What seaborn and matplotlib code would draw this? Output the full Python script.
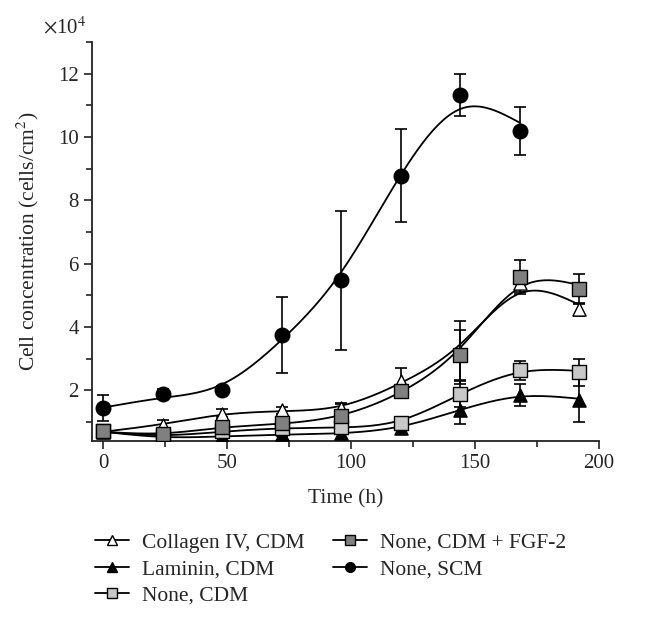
import numpy as np
import pandas as pd
import matplotlib
matplotlib.use('Agg')
import matplotlib.pyplot as plt
from matplotlib.lines import Line2D
from matplotlib.ticker import MultipleLocator
import seaborn as sns

# -- data (cells/cm^2, in units of 1e4) --
time_h = [0, 24, 48, 72, 96, 120, 144, 168, 192]

collagen = [0.69, 0.91, 1.25, 1.36, 1.45, 2.30, 3.20, 5.40, 4.56]
collagen_err = [0.10, 0.15, 0.17, 0.12, 0.10, 0.40, 1.00, 0.30, 0.20]

laminin = [0.70, 0.50, 0.55, 0.60, 0.65, 0.82, 1.37, 1.85, 1.70]
laminin_err = [0.05, 0.05, 0.05, 0.05, 0.05, 0.20, 0.45, 0.35, 0.70]

none_cdm = [0.70, 0.55, 0.70, 0.80, 0.85, 0.97, 1.88, 2.63, 2.57]
none_cdm_err = [0.05, 0.05, 0.10, 0.10, 0.15, 0.10, 0.40, 0.30, 0.43]

fgf2 = [0.70, 0.60, 0.85, 0.95, 1.20, 1.98, 3.11, 5.57, 5.19]
fgf2_err = [0.05, 0.10, 0.30, 0.20, 0.40, 0.10, 0.80, 0.53, 0.47]

scm_time = [0, 24, 48, 72, 96, 120, 144, 168]
scm = [1.44, 1.88, 2.00, 3.75, 5.47, 8.78, 11.33, 10.20]
scm_err = [0.40, 0.15, 0.12, 1.20, 2.20, 1.47, 0.67, 0.76]

# name, x, y, err, marker, face colour, smoothing
series = [
    ('Collagen IV, CDM', time_h, collagen, collagen_err, '^', 'white', 600),
    ('Laminin, CDM', time_h, laminin, laminin_err, '^', 'black', 600),
    ('None, CDM', time_h, none_cdm, none_cdm_err, 's', '#c8c8c8', 600),
    ('None, CDM + FGF-2', time_h, fgf2, fgf2_err, 's', '#808080', 600),
    ('None, SCM', scm_time, scm, scm_err, 'o', 'black', 1000),
]


def smooth_curve(t, y, lam):
    # discrete smoothing spline (second-difference penalty) on a 1 h grid
    grid = np.arange(t.min(), t.max() + 1, 1.0)
    n = len(grid)
    idx = np.searchsorted(grid, t)
    w = np.zeros(n)
    w[idx] = 1.0
    z = np.zeros(n)
    z[idx] = y
    D = np.diff(np.eye(n), 2, axis=0)
    f = np.linalg.solve(np.diag(w) + lam * D.T @ D, w * z)
    return grid, f


sns.set_style('ticks')
plt.rcParams['font.family'] = ['Liberation Serif', 'DejaVu Serif']
plt.rcParams['mathtext.fontset'] = 'stix'

fig = plt.figure(figsize=(6.64, 6.2), dpi=100)
ax = fig.add_axes([0.1386, 0.289, 0.7634, 0.643])

handles = []
for name, t, y, e, mk, fc, lam in series:
    t = np.array(t, dtype=float)
    y = np.array(y)
    tt, yy = smooth_curve(t, y, lam)
    sns.lineplot(x=tt, y=yy, color='black', lw=1.3, ax=ax, zorder=2)
    ax.errorbar(t, y, yerr=e, fmt='none', ecolor='black', elinewidth=1.2,
                capsize=4.5, capthick=1.2, zorder=3)
    df = pd.DataFrame({'t': t, 'y': y})
    sns.scatterplot(data=df, x='t', y='y', marker=mk, color=fc, edgecolor='black',
                    linewidth=1.0, s=90 if mk != 'o' else 110, ax=ax, zorder=4)
    handles.append(Line2D([], [], color='black', lw=1.3, marker=mk, markerfacecolor=fc,
                          markeredgecolor='black', markersize=7, label=name))

ax.set_xlim(-4.5, 200)
ax.set_ylim(0.4, 13)
ax.xaxis.set_major_locator(MultipleLocator(50))
ax.xaxis.set_minor_locator(MultipleLocator(25))
ax.yaxis.set_minor_locator(MultipleLocator(1))
ax.set_yticks([2, 4, 6, 8, 10, 12])
ax.tick_params(axis='both', which='major', labelsize=15, length=6, width=1.2, direction='out', color='#222222')
ax.tick_params(axis='both', which='minor', length=4, width=1.2, direction='out', color='#222222')
sns.despine(ax=ax)
for s in ['left', 'bottom']:
    ax.spines[s].set_linewidth(1.3)
    ax.spines[s].set_color('#222222')

ax.set_xlabel('Time (h)', fontsize=15.5, labelpad=12)
ax.set_ylabel('Cell concentration (cells/cm$^2$)', fontsize=15.5, labelpad=12)
fig.text(0.065, 0.955, r'$\times$10$^4$', fontsize=15, va='center')

fig.legend(handles=handles, loc='upper left', bbox_to_anchor=(0.13, 0.155), ncol=2,
           frameon=False, fontsize=15.5, handlelength=1.6, handletextpad=0.6,
           labelspacing=0.3, columnspacing=1.3, borderaxespad=0)

fig.savefig('out.png', dpi=100)
